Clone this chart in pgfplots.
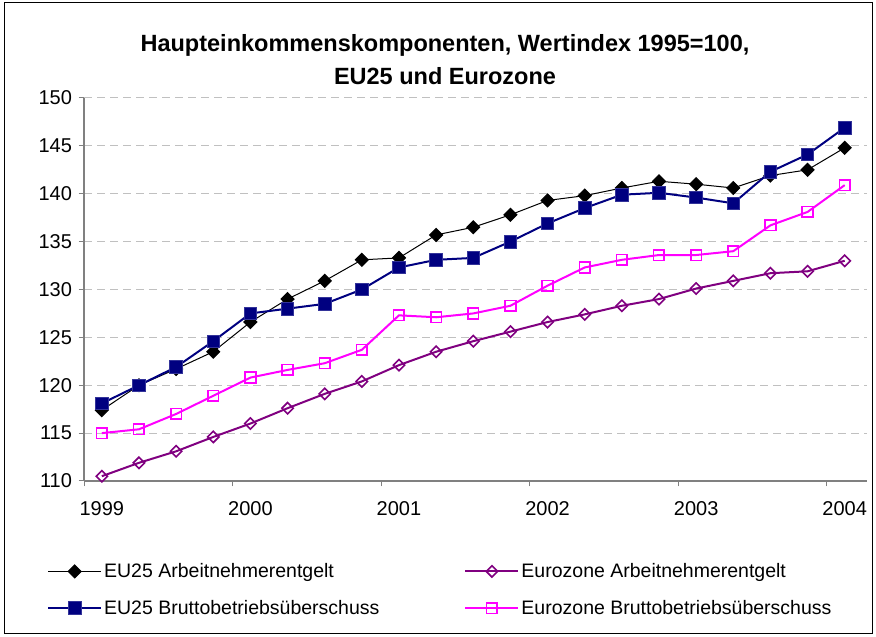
\documentclass[border=0pt]{standalone}
\usepackage{pgfplots}
\pgfplotsset{compat=1.18}
\usepackage{pgfplotstable}
\usepackage{fontspec}
\setmainfont{Liberation Sans}
\definecolor{navyc}{RGB}{0,0,128}
\definecolor{purplec}{RGB}{128,0,128}
\definecolor{magentac}{RGB}{255,0,255}
\definecolor{gridc}{RGB}{192,192,192}
\definecolor{axisc}{RGB}{128,128,128}

\pgfplotstableread{
x        euA    euB    ezA    ezB
1999.12  117.4  118.1  110.5  115.0
1999.37  120.0  120.0  111.9  115.4
1999.62  121.7  121.9  113.1  117.0
1999.87  123.5  124.6  114.6  118.9
2000.12  126.6  127.5  116.0  120.8
2000.37  129.0  128.0  117.6  121.6
2000.62  130.9  128.5  119.1  122.3
2000.87  133.1  130.0  120.4  123.7
2001.12  133.3  132.3  122.1  127.3
2001.37  135.7  133.1  123.5  127.1
2001.62  136.5  133.3  124.6  127.5
2001.87  137.8  135.0  125.6  128.3
2002.12  139.3  136.9  126.6  130.4
2002.37  139.8  138.5  127.4  132.3
2002.62  140.6  139.9  128.3  133.1
2002.87  141.3  140.1  129.0  133.6
2003.12  141.0  139.6  130.1  133.6
2003.37  140.6  139.0  130.9  134.0
2003.62  141.9  142.3  131.7  136.7
2003.87  142.5  144.1  131.9  138.1
2004.12  144.8  146.9  133.0  140.9
}\datatable

\begin{document}
\begin{tikzpicture}
\path[use as bounding box] (0pt,0pt) rectangle (876pt,637pt);
\draw[black, line width=1pt] (4pt,3pt) rectangle (872pt,634pt);
\node[font=\bfseries\fontsize{23.5}{33}\selectfont, align=center] at (445pt,577pt)
  {Haupteinkommenskomponenten, Wertindex 1995=100,\\EU25 und Eurozone};
\begin{axis}[
  at={(84pt,156pt)}, anchor=south west,
  width=783pt, height=383pt, scale only axis,
  xmin=1999, xmax=2004.27, ymin=110, ymax=150,
  axis x line*=bottom, axis y line*=left,
  axis line style={axisc, line width=1.2pt, -},
  tick style={axisc, line width=1pt},
  tick align=outside, major tick length=5.5pt,
  xtick={1999,2000,...,2004}, xticklabels={},
  extra x ticks={1999.12,2000.12,2001.12,2002.12,2003.12,2004.12},
  extra x tick labels={1999,2000,2001,2002,2003,2004},
  extra x tick style={major tick length=0pt, grid=none,
     tick label style={yshift=-17pt}},
  ytick={110,115,...,150},
  ymajorgrids,
  major grid style={gridc, line width=1pt, dash pattern=on 8pt off 5pt},
  /pgf/number format/assume math mode=true,
  tick label style={font=\fontsize{20}{24}\selectfont},
  yticklabel style={xshift=-3pt},
  legend columns=2,
  legend cell align=left,
  legend style={draw=none, fill=none, inner sep=0pt,
     at={(axis description cs:-0.0473,-0.21)}, anchor=north west,
     font=\fontsize{19.5}{22}\selectfont,
     nodes={inner sep=2pt},
     /tikz/row sep=17pt,
     /tikz/every even column/.append style={column sep=83pt}},
  legend image code/.code={\draw[mark repeat=2,mark phase=2] plot coordinates {(0pt,0pt) (26.5pt,0pt) (53pt,0pt)};},
]
\addplot[black, line width=1pt, mark=square*, mark size=4.6pt,
  mark options={rotate=45, solid, fill=black}] table[x=x,y=euA] {\datatable};
\addlegendentry{EU25 Arbeitnehmerentgelt}
\addplot[purplec, line width=2pt, mark=square, mark size=4pt,
  mark options={rotate=45, solid, fill=white, line width=1.6pt}] table[x=x,y=ezA] {\datatable};
\addlegendentry{Eurozone Arbeitnehmerentgelt}
\addplot[navyc, line width=2pt, mark=square*, mark size=6.3pt,
  mark options={solid, fill=navyc, draw=navyc!80!white, line width=0.8pt}] table[x=x,y=euB] {\datatable};
\addlegendentry{EU25 Bruttobetriebsüberschuss}
\addplot[magentac, line width=2pt, mark=square, mark size=5.3pt,
  mark options={solid, fill=white, line width=1.6pt}] table[x=x,y=ezB] {\datatable};
\addlegendentry{Eurozone Bruttobetriebsüberschuss}
\end{axis}
\end{tikzpicture}
\end{document}
